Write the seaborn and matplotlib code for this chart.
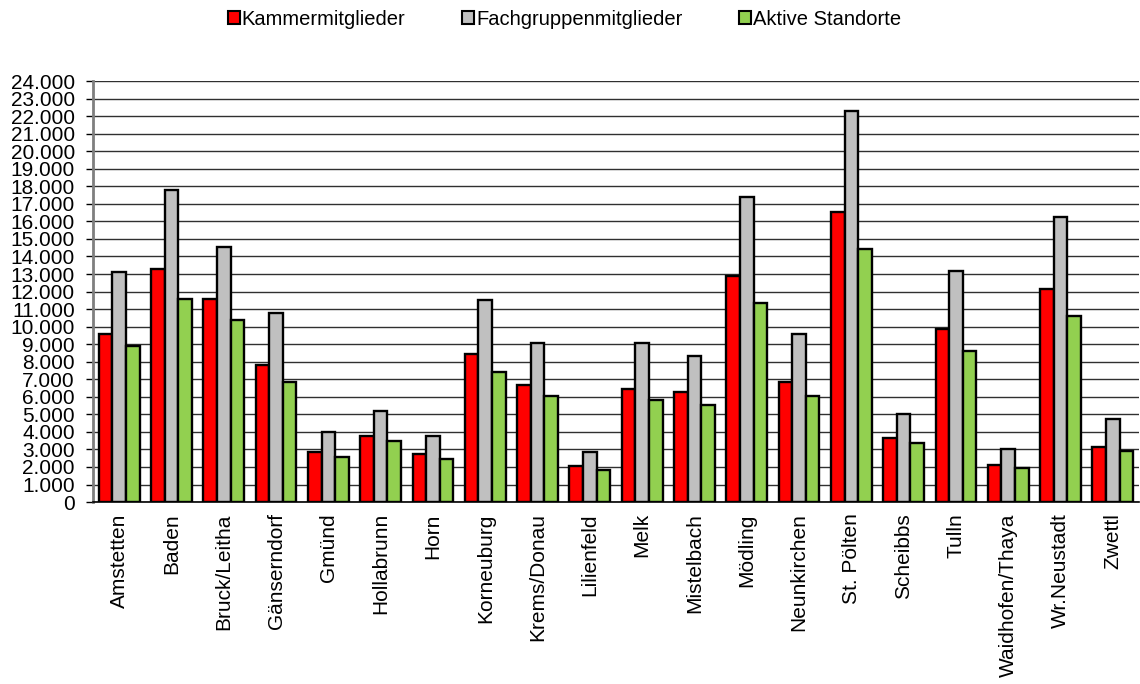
import pandas as pd
import seaborn as sns
import matplotlib.pyplot as plt
from matplotlib.ticker import FuncFormatter, MultipleLocator

# Bezirke (x categories)
bezirke = ["Amstetten", "Baden", "Bruck/Leitha", "Gänserndorf", "Gmünd", "Hollabrunn",
           "Horn", "Korneuburg", "Krems/Donau", "Lilienfeld", "Melk", "Mistelbach",
           "Mödling", "Neunkirchen", "St. Pölten", "Scheibbs", "Tulln",
           "Waidhofen/Thaya", "Wr.Neustadt", "Zwettl"]

# series values
kammer = [9590, 13270, 11560, 7820, 2880, 3760, 2760, 8440, 6650, 2050,
          6420, 6290, 12900, 6840, 16550, 3630, 9840, 2130, 12140, 3140]
fachgruppe = [13100, 17770, 14560, 10750, 3990, 5210, 3740, 11500, 9060, 2850,
              9060, 8320, 17400, 9600, 22310, 5020, 13150, 3040, 16270, 4730]
standorte = [8900, 11600, 10390, 6840, 2570, 3480, 2430, 7430, 6030, 1840,
             5820, 5510, 11360, 6040, 14400, 3340, 8590, 1940, 10590, 2930]

series_names = ["Kammermitglieder", "Fachgruppenmitglieder", "Aktive Standorte"]
colors = ["#FF0000", "#C0C0C0", "#92D050"]

# long-form table for seaborn
df = pd.DataFrame({
    "Bezirk": bezirke * 3,
    "Serie": [series_names[0]] * len(bezirke) + [series_names[1]] * len(bezirke)
             + [series_names[2]] * len(bezirke),
    "Wert": kammer + fachgruppe + standorte,
})

sns.set_style("white", {"text.color": "black", "xtick.color": "black", "ytick.color": "black"})
plt.rcParams["font.family"] = ["Liberation Sans", "DejaVu Sans"]

fig = plt.figure(figsize=(11.4, 6.84), dpi=100)
ax = fig.add_axes([0.0816, 0.266, 0.9175, 0.6155])

sns.barplot(data=df, x="Bezirk", y="Wert", hue="Serie", palette=colors,
            saturation=1, width=0.78, edgecolor="black", linewidth=1.7,
            errorbar=None, ax=ax, zorder=3)

ax.set_ylim(0, 24000)
ax.set_xlim(-0.5, len(bezirke) - 0.5)
ax.yaxis.set_major_locator(MultipleLocator(1000))
ax.yaxis.set_major_formatter(FuncFormatter(lambda v, p: f"{int(v):,}".replace(",", ".")))
ax.grid(axis="y", color="#303030", linewidth=1.0, zorder=0)
ax.set_axisbelow(True)

ax.set_xlabel("")
ax.set_ylabel("")
ax.tick_params(axis="y", labelsize=15, length=5, width=1, pad=8, direction="out",
               left=True, colors="black")
ax.tick_params(axis="x", labelsize=15, length=0, pad=8, colors="black")
plt.setp(ax.get_xticklabels(), rotation=90, va="top", ha="center")

for side in ["top", "right"]:
    ax.spines[side].set_visible(False)
ax.spines["left"].set_color("#7f7f7f")
ax.spines["left"].set_linewidth(2)
ax.spines["bottom"].set_color("black")
ax.spines["bottom"].set_linewidth(1.2)

leg = ax.legend(loc="upper center", bbox_to_anchor=(0.495, 1.012), bbox_transform=fig.transFigure,
                ncol=3, frameon=False, fontsize=14.5, handlelength=0.6, handleheight=0.6,
                handletextpad=0.1, columnspacing=2.8)
for h in leg.legend_handles:
    h.set_edgecolor("black")
    h.set_linewidth(1.5)
for t in leg.get_texts():
    t.set_color("black")

plt.savefig("out.png", dpi=100)
